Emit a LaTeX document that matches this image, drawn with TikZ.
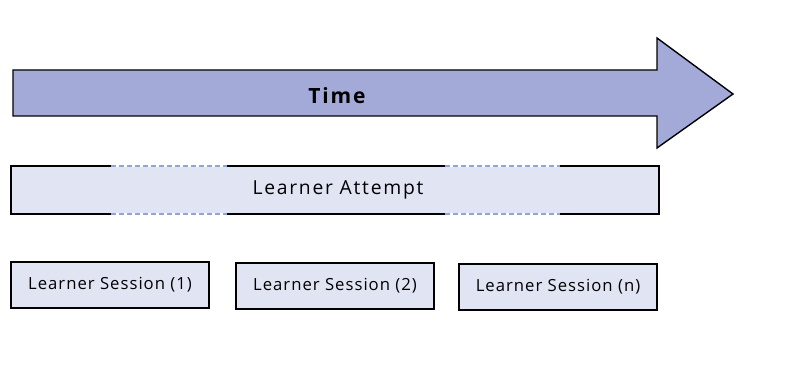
\documentclass[tikz,border=0pt]{standalone}
\usepackage{fontspec}
\setmainfont{Open Sans}
\newfontfamily\tracked[LetterSpace=6]{Open Sans}
\newfontfamily\trackedwide[LetterSpace=9]{Open Sans}
\usetikzlibrary{calc}
\definecolor{arrowfill}{HTML}{A3AAD8}
\definecolor{boxfill}{HTML}{E1E4F3}
\definecolor{dashblue}{HTML}{8FA3DD}
\tikzset{
  box/.style={draw=black, line width=1.6pt, fill=boxfill, minimum height=46pt, inner sep=0pt, font=\tracked\fontsize{16.7}{19}\selectfont},
  gapline/.style={dashblue, line width=1.5pt, dash pattern=on 5pt off 3pt},
  edge/.style={black, line width=1.6pt, line cap=rect}
}
\begin{document}
\begin{tikzpicture}[x=1pt,y=-1pt]
\useasboundingbox (0,0) rectangle (804,366);
\fill[white] (0,0) rectangle (804,366);
% time arrow
\draw[line width=1.4pt, fill=arrowfill, line join=miter]
  (13,70) -- (657,70) -- (657,38) -- (733,94) -- (657,148) -- (657,116) -- (13,116) -- cycle;
\node[font=\trackedwide\bfseries\fontsize{21}{24}\selectfont] (time) at (337,96) {Time};
% learner attempt
\node[box, draw=none, minimum width=646pt] (att) at (335,190) {};
\node[font=\trackedwide\fontsize{19.3}{21}\selectfont] (attlabel) at (338,190) {Learner Attempt};
\coordinate (t1) at ($(att.north west)+(100,0)$);
\coordinate (t2) at ($(att.north west)+(216,0)$);
\coordinate (t3) at ($(att.north west)+(434,0)$);
\coordinate (t4) at ($(att.north west)+(549,0)$);
\coordinate (b1) at ($(att.south west)+(100,0)$);
\coordinate (b2) at ($(att.south west)+(216,0)$);
\coordinate (b3) at ($(att.south west)+(434,0)$);
\coordinate (b4) at ($(att.south west)+(549,0)$);
\draw[edge] (t1) -- (att.north west) -- (att.south west) -- (b1);
\draw[edge] (t2) -- (t3);
\draw[edge] (b2) -- (b3);
\draw[edge] (t4) -- (att.north east) -- (att.south east) -- (b4);
\draw[gapline] (t1) -- (t2);
\draw[gapline] (t3) -- (t4);
\draw[gapline] (b1) -- (b2);
\draw[gapline] (b3) -- (b4);
% sessions
\node[box, minimum width=198pt] (s1) at (110,285) {Learner Session (1)};
\node[box, minimum width=198pt] (s2) at (335,286) {Learner Session (2)};
\node[box, minimum width=198pt] (s3) at (558,287) {Learner Session (n)};
\end{tikzpicture}
\end{document}
